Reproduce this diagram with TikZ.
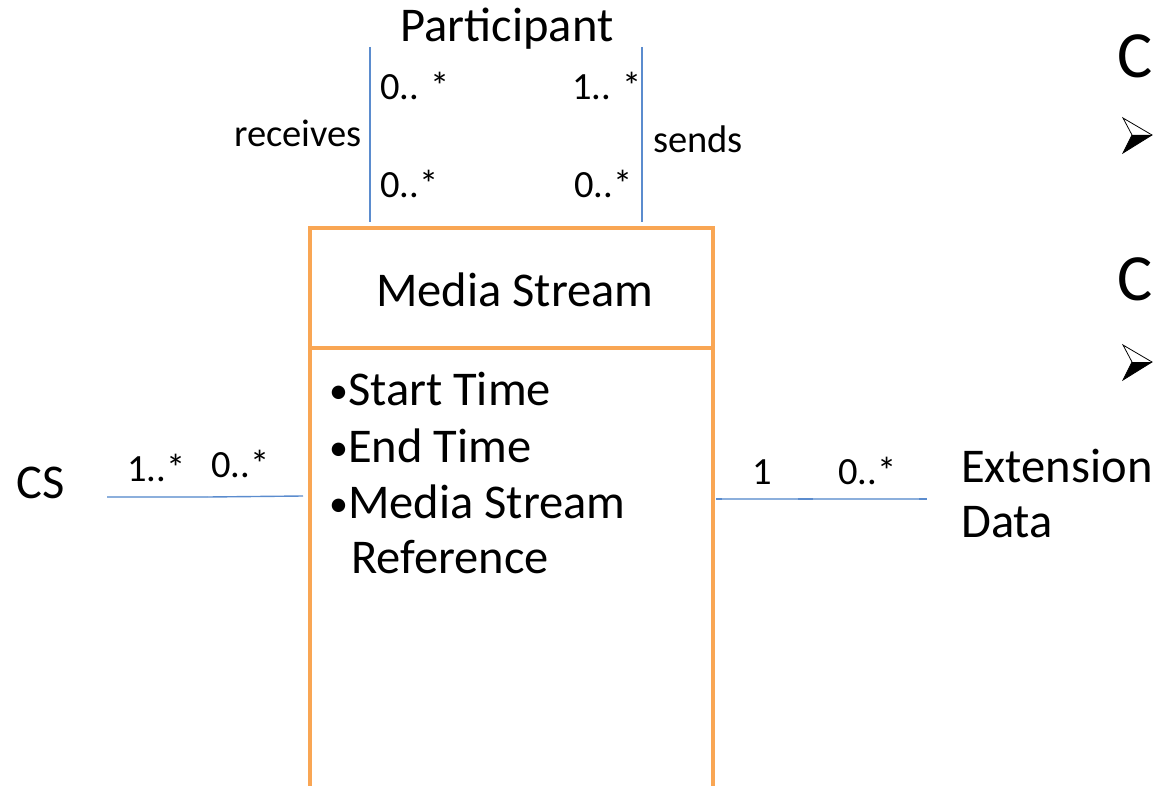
\documentclass[tikz,border=0pt]{standalone}
\usepackage{fontspec}
\setmainfont{Carlito}
\definecolor{boxorange}{RGB}{249,166,84}
\definecolor{linkblue}{RGB}{91,140,206}
\definecolor{lightblue}{RGB}{140,175,220}
\newcommand{\smallbul}{{\fontsize{38}{38}\selectfont\raisebox{2pt}{•}}}
\tikzset{
  big/.style={inner sep=0pt, anchor=base west, font=\fontsize{48.5}{58}\selectfont},
  small/.style={inner sep=0pt, anchor=base west, font=\fontsize{38.5}{46}\selectfont},
  cut/.style={inner sep=0pt, anchor=base west, font=\fontsize{66}{78}\selectfont},
  classbox/.style={draw=boxorange, line width=4pt, minimum width=403pt, inner sep=0pt},
  link/.style={draw=linkblue, line width=1.4pt},
  thinlink/.style={draw=lightblue, line width=1.2pt},
}
\begin{document}
\begin{tikzpicture}[x=1pt,y=-1pt]
\useasboundingbox (0,0) rectangle (1154,786);
% class box
\node[classbox, minimum height=120pt] (head) at (511.5,288) {};
\node[classbox, minimum height=452pt] (body) at (511.5,574) {};
\node[big] (title) at (376,307) {Media Stream};
\node[big] (a1) at (329,405) {\smallbul Start Time};
\node[big] (a2) at (329,462) {\smallbul End Time};
\node[big] (a3) at (329,518) {\smallbul Media Stream};
\node[big] (a4) at (351,573) {Reference};
% participant
\node[big, anchor=base] (part) at (507,42) {Participant};
\coordinate (pl1) at (370,47); \coordinate (pl2) at (370,222);
\coordinate (pr1) at (642,47); \coordinate (pr2) at (642,222);
\draw[link] (pl1) -- (pl2);
\draw[link] (pr1) -- (pr2);
\node[small] (m1) at (380,100) {0.. *};
\node[small] (m2) at (572,100) {1.. *};
\node[small] (m3) at (380,198) {0..*};
\node[small] (m4) at (574,198) {0..*};
\node[small, anchor=base east] (rec) at (362,147) {receives};
\node[small] (snd) at (653,153) {sends};
% CS
\node[big] (cs) at (16,498) {CS};
\coordinate (c1) at (107,497); \coordinate (c2) at (208,497); \coordinate (c3) at (303,496);
\draw[thinlink] (c1) -- (c2);
\draw[link] (c2) -- (c3);
\node[small] (m5) at (127,481) {1..*};
\node[small] (m6) at (211,477) {0..*};
% extension data
\coordinate (e1) at (716,499); \coordinate (e2) at (926,499);
\draw[thinlink] (e1) -- (e2);
\draw[link] (716,499) -- (722,499);
\draw[link] (798,499) -- (813,499);
\draw[link] (919,499) -- (927,499);
\node[small] (m7) at (752,484) {1};
\node[small] (m8) at (838,484) {0..*};
\node[big] (ext) at (961,482) {Extension};
\node[big] (dat) at (961,537) {Data};
% cut-off slide text at right edge
\node[cut] (k1) at (1117,78) {C};
\node[cut] (k2) at (1117,301) {C};
\draw[line width=0.8pt] (1123,118) -- (1152,135) -- (1123,153) -- (1132,135) -- cycle;
\fill (1132,135) -- (1152,135) -- (1123,153) -- cycle;
\draw[line width=0.8pt] (1123,345) -- (1152,362) -- (1123,380) -- (1132,362) -- cycle;
\fill (1132,362) -- (1152,362) -- (1123,380) -- cycle;
\end{tikzpicture}
\end{document}
